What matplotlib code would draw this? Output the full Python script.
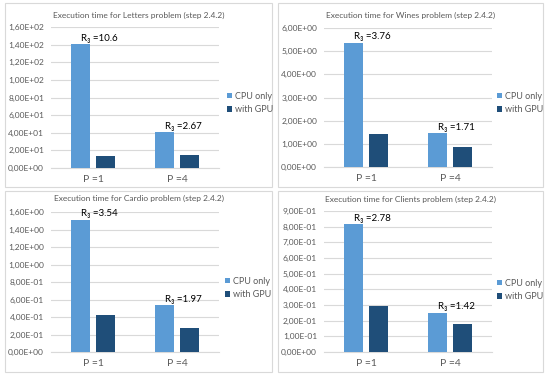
import matplotlib
matplotlib.use("Agg")
import matplotlib.pyplot as plt
from matplotlib.patches import Rectangle
from matplotlib.ticker import FuncFormatter, MultipleLocator

plt.rcParams['font.family'] = ['Lato', 'DejaVu Sans']

categories = ["P =1", "P =4"]
series_names = ["CPU only", "with GPU"]

titles = [
    "Execution time for Letters problem (step 2.4.2)",
    "Execution time for Wines problem (step 2.4.2)",
    "Execution time for Cardio problem (step 2.4.2)",
    "Execution time for Clients problem (step 2.4.2)",
]

letters_cpu = [140.3, 40.6]
letters_gpu = [13.2, 15.2]
wines_cpu = [5.37, 1.47]
wines_gpu = [1.43, 0.86]
cardio_cpu = [1.51, 0.535]
cardio_gpu = [0.427, 0.272]
clients_cpu = [0.815, 0.25]
clients_gpu = [0.293, 0.176]

ratios_letters = ["10.6", "2.67"]
ratios_wines = ["3.76", "1.71"]
ratios_cardio = ["3.54", "1.97"]
ratios_clients = ["2.78", "1.42"]

y_max = [160, 6.0, 1.6, 0.9]
y_step = [20, 1.0, 0.2, 0.1]

cpu_all = [letters_cpu, wines_cpu, cardio_cpu, clients_cpu]
gpu_all = [letters_gpu, wines_gpu, cardio_gpu, clients_gpu]
ratio_all = [ratios_letters, ratios_wines, ratios_cardio, ratios_clients]

C_CPU = "#5B9BD5"
C_GPU = "#1F4E79"
GRID = "#D9D9D9"
TXT = "#595959"

W, H = 550, 376
fig = plt.figure(figsize=(5.5, 3.76), dpi=100)


def fbox(x0, y0, x1, y1):
    return [x0 / W, 1 - y1 / H, (x1 - x0) / W, (y1 - y0) / H]


def excel_sci(v, pos=None):
    if abs(v) < 1e-12:
        return "0,00E+00"
    import math
    e = int(math.floor(math.log10(abs(v)) + 1e-9))
    m = v / 10 ** e
    if round(m, 2) >= 10:
        m /= 10
        e += 1
    sign = "+" if e >= 0 else "-"
    return f"{m:.2f}".replace(".", ",") + f"E{sign}{abs(e):02d}"


panels = [(5, 3, 272, 187), (278, 3, 543, 187), (5, 191, 272, 372), (278, 191, 543, 372)]
plots = [(51, 27, 219, 168), (324, 28, 492, 167), (51, 212, 219, 352), (324, 211, 492, 352)]
title_y = [15, 15, 198, 199]
legend_xy = [(227, 103), (497, 103), (225, 288), (497, 290)]

for i in range(4):
    px0, py0, px1, py1 = panels[i]
    fig.patches.append(Rectangle((px0 / W, 1 - py1 / H), (px1 - px0) / W, (py1 - py0) / H,
                                 transform=fig.transFigure, facecolor="white",
                                 edgecolor=GRID, lw=0.8, zorder=-5))
    ax = fig.add_axes(fbox(*plots[i]))
    ax.set_facecolor("none")
    ax.set_zorder(2)
    x = list(range(len(categories)))
    bw = 0.226
    off = 0.143
    b1 = ax.bar([v - off for v in x], cpu_all[i], width=bw, color=C_CPU, zorder=3, label=series_names[0])
    b2 = ax.bar([v + off for v in x], gpu_all[i], width=bw, color=C_GPU, zorder=3, label=series_names[1])
    ax.set_xlim(-0.5, 1.5)
    ax.set_ylim(0, y_max[i])
    ax.yaxis.set_major_locator(MultipleLocator(y_step[i]))
    ax.yaxis.set_major_formatter(FuncFormatter(excel_sci))
    ax.set_xticks(x)
    ax.set_xticklabels(categories)
    ax.tick_params(axis="both", length=0, colors=TXT)
    ax.tick_params(axis="y", pad=5, labelsize=6.0)
    ax.tick_params(axis="x", pad=5, labelsize=7.5)
    ax.grid(axis="y", color=GRID, lw=0.8, zorder=0)
    ax.set_axisbelow(True)
    for s in ["left", "right", "top"]:
        ax.spines[s].set_visible(False)
    ax.spines["bottom"].set_color(GRID)
    ax.spines["bottom"].set_linewidth(0.8)
    for j, r in enumerate(ratio_all[i]):
        ax.annotate("R\u2083 =" + r, xy=(x[j] - off, cpu_all[i][j]), xytext=(0, 1),
                    textcoords="offset points", ha="left", va="bottom",
                    fontsize=7.0, color="black", zorder=5, annotation_clip=False)
    fig.text((px0 + px1) / 2 / W, 1 - title_y[i] / H, titles[i], ha="center", va="center",
             fontsize=6.0, color=TXT)
    lx, ly = legend_xy[i]
    ax.legend(handles=[b1, b2], loc="center left", bbox_to_anchor=(lx / W, 1 - ly / H),
              bbox_transform=fig.transFigure, frameon=False, fontsize=6.5,
              handlelength=0.55, handleheight=0.55, handletextpad=0.35, labelspacing=0.45,
              borderpad=0, borderaxespad=0, labelcolor=TXT)

fig.savefig("out.png", dpi=100)
